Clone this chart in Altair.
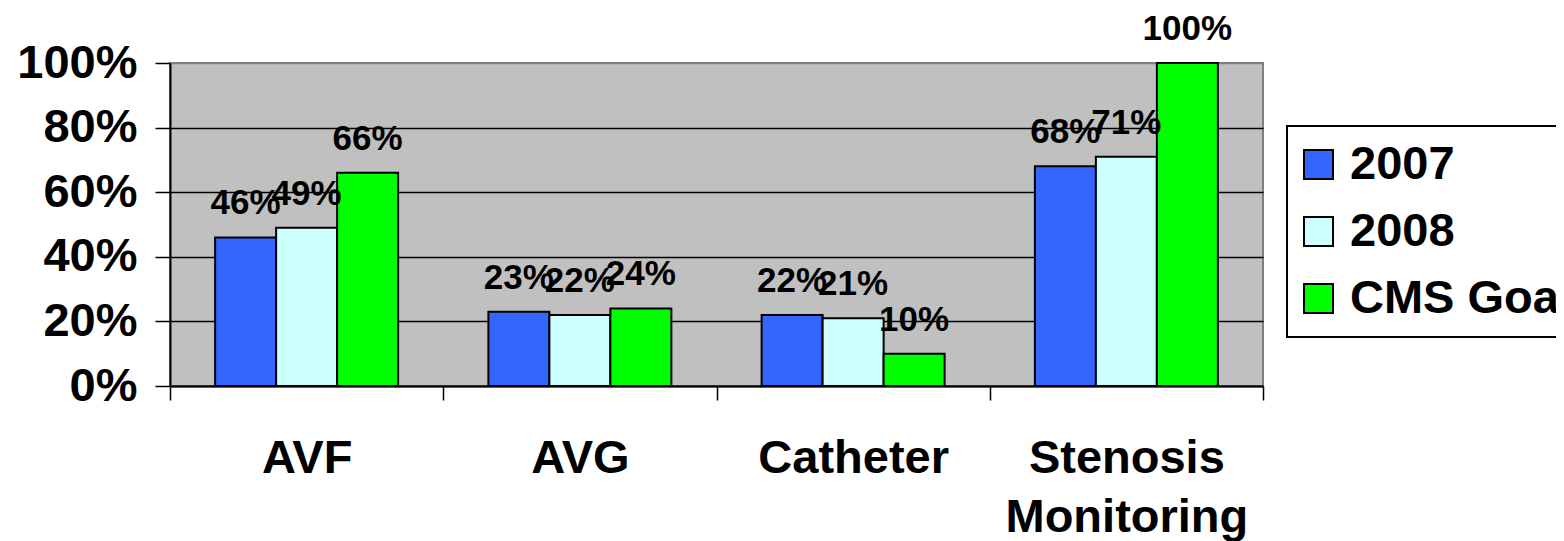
import altair as alt
import pandas as pd

categories = ["AVF", "AVG", "Catheter", "Stenosis Monitoring"]
series = ["2007", "2008", "CMS Goal"]
values_2007 = [0.46, 0.23, 0.22, 0.68]
values_2008 = [0.49, 0.22, 0.21, 0.71]
values_goal = [0.66, 0.24, 0.10, 1.00]
colors = ["#3366FF", "#CCFFFF", "#00FF00"]
y_ticks = [0, 0.2, 0.4, 0.6, 0.8, 1.0]

rows = []
for s, vals in zip(series, [values_2007, values_2008, values_goal]):
    for c, v in zip(categories, vals):
        rows.append({"category": c, "series": s, "value": v})
df = pd.DataFrame(rows)

FONT = "Liberation Sans"
BIG = 47

x_enc = alt.X(
    "category:N",
    sort=categories,
    scale=alt.Scale(paddingInner=0, paddingOuter=0),
    axis=alt.Axis(
        title=None, labelAngle=0, tickBand="extent", ticks=True, tickSize=14,
        tickColor="black", tickWidth=1.5, domainColor="black", domainWidth=2,
        labelFont=FONT, labelFontSize=BIG, labelFontWeight="bold", labelColor="black",
        labelPadding=35, labelLineHeight=59, labelBaseline="top", labelLimit=0,
        labelExpr="split(datum.label, ' ')", grid=False,
    ),
)
y_enc = alt.Y(
    "value:Q",
    scale=alt.Scale(domain=[0, 1], nice=False),
    axis=alt.Axis(
        values=y_ticks, format=".0%", title=None, tickSize=15, tickColor="black",
        tickWidth=1.5, domainColor="black", domainWidth=2, grid=True,
        gridColor=alt.condition("datum.value >= 1", alt.value("#808080"), alt.value("black")),
        gridWidth=1.5, labelFont=FONT, labelFontSize=BIG, labelFontWeight="bold",
        labelColor="black", labelPadding=18,
    ),
)
xoff = alt.XOffset("series:N", sort=series, scale=alt.Scale(paddingOuter=0.74, paddingInner=0))

bars = alt.Chart(df).mark_bar(stroke="black", strokeWidth=2).encode(
    x=x_enc,
    xOffset=xoff,
    y=y_enc,
    color=alt.Color(
        "series:N",
        sort=series,
        scale=alt.Scale(domain=series, range=colors),
        legend=alt.Legend(
            title=None, orient="none", legendX=1117, legendY=63,
            symbolType="square", symbolSize=841, symbolStrokeColor="black",
            symbolStrokeWidth=2, symbolOpacity=1, symbolOffset=-7,
            labelFont=FONT, labelFontSize=BIG,
            labelFontWeight="bold", labelColor="black", labelOffset=8, padding=15,
            rowPadding=19, strokeColor="black", labelLimit=0,
        ),
    ),
)

labels = alt.Chart(df).mark_text(
    font=FONT, fontSize=35, fontWeight="bold", baseline="alphabetic", dy=-23, color="black"
).encode(
    x=alt.X("category:N", sort=categories),
    xOffset=xoff,
    y=alt.Y("value:Q"),
    text=alt.Text("value:Q", format=".0%"),
)

chart = alt.layer(bars, labels).properties(
    width=1093,
    height=323,
    padding={"left": 162, "top": 55, "right": 293, "bottom": 155},
    autosize=alt.AutoSizeParams(type="none"),
).configure_view(
    fill="#C0C0C0", stroke="#808080", strokeWidth=2
).configure_legend(
    strokeWidth=2
)

chart.save("out.html", embed_options={"renderer": "svg", "actions": False})
